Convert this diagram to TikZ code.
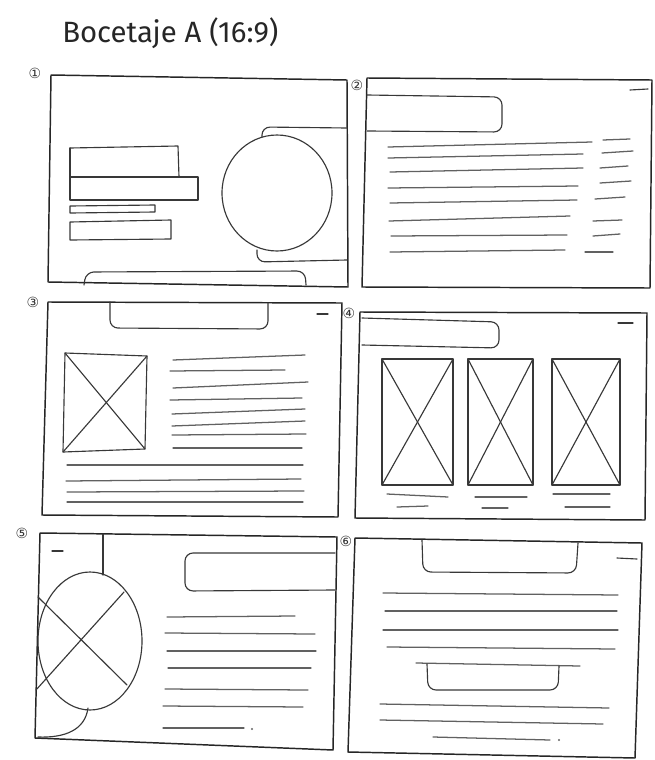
\documentclass[tikz,border=0pt]{standalone}
\usepackage{fontspec}
\setmainfont{Fira Sans}
\newfontfamily\symfont{DejaVu Sans}
\begin{document}
\begin{tikzpicture}[x=0.75pt,y=-0.75pt,
  frame/.style={draw=black!85,line width=1.1pt,line join=round},
  ink/.style={draw=black!78,line width=0.85pt,line cap=round,line join=round},
  txt/.style={draw=black!62,line width=0.95pt,line cap=round},
  tab/.style={ink,rounded corners=6pt},
  num/.style={font=\symfont\fontsize{10.5}{10.5}\selectfont,text=black!80,inner sep=0pt}]
\useasboundingbox (0,0) rectangle (654,760);
\fill[white] (0,0) rectangle (654,760);

% title
\node[font=\fontsize{22}{24}\selectfont,text=black!85,anchor=west,inner sep=0pt] (title) at (62,33) {Bocetaje A (16:9)};

% ---------- panel 1 ----------
\node[num] (n1) at (35,73) {①};
\draw[frame] (51,75) -- (347,80) -- (348,287) -- (48,282) -- cycle;
\draw[ink] (70,148) -- (178,146) -- (179,177);
\draw[ink] (70,148) -- (70,177) -- (198,177) -- (198,200) -- (70,200) -- cycle;
\draw[ink] (70,206) -- (155,205) -- (155,212) -- (70,213) -- cycle;
\draw[ink] (70,222) -- (171,220) -- (171,239) -- (70,240) -- cycle;
\draw[tab] (262,138) -- (262,127) -- (347,128);
\draw[tab] (257,250) -- (257,262) -- (347,260);
\draw[ink,fill=white] (277,193) ellipse [x radius=55, y radius=58];
\draw[tab] (84,285) -- (86,272) -- (305,271) -- (306,285);

% ---------- panel 2 ----------
\node[num] (n2) at (357,85) {②};
\draw[frame] (367,78) -- (652,80) -- (650,288) -- (362,287) -- cycle;
\draw[tab] (367,95) -- (502,97) -- (502,132) -- (367,131);
\draw[ink] (630,90) -- (648,89);
\draw[txt] (388,147) -- (592,142);
\draw[txt] (388,158) -- (583,154);
\draw[txt] (390,172) -- (583,168);
\draw[txt] (388,188) -- (578,186);
\draw[txt] (390,203) -- (577,200);
\draw[txt] (389,221) -- (570,216);
\draw[txt] (391,236) -- (567,235);
\draw[txt] (390,252) -- (565,250);
\draw[txt] (603,140) -- (630,139);
\draw[txt] (602,153) -- (633,151);
\draw[txt] (600,168) -- (628,166);
\draw[txt] (600,183) -- (631,181);
\draw[txt] (595,199) -- (625,197);
\draw[txt] (593,221) -- (622,220);
\draw[txt] (593,236) -- (620,234);
\draw[txt] (585,252) -- (613,252);

% ---------- panel 3 ----------
\node[num] (n3) at (33,302) {③};
\draw[frame] (48,302) -- (342,303) -- (338,517) -- (42,515) -- cycle;
\draw[tab] (110,302) -- (110,328) -- (268,329) -- (268,303);
\draw[ink] (317,314) -- (328,314);
\draw[ink] (65,353) -- (147,356) -- (145,449) -- (63,452) -- cycle;
\draw[ink] (65,353) -- (145,449);
\draw[ink] (147,356) -- (63,452);
\draw[txt] (173,360) -- (305,355);
\draw[txt] (170,371) -- (285,370);
\draw[txt] (173,388) -- (308,382);
\draw[txt] (170,400) -- (302,398);
\draw[txt] (172,414) -- (305,409);
\draw[txt] (172,426) -- (305,421);
\draw[txt] (172,435) -- (306,434);
\draw[txt] (173,448) -- (302,448);
\draw[txt] (67,465) -- (303,465);
\draw[txt] (66,481) -- (301,479);
\draw[txt] (67,492) -- (304,491);
\draw[txt] (67,502) -- (303,502);

% ---------- panel 4 ----------
\node[num] (n4) at (349,313) {④};
\draw[frame] (360,312) -- (647,313) -- (645,520) -- (355,518) -- cycle;
\draw[tab] (362,318) -- (499,322) -- (499,348) -- (362,345);
\draw[ink] (618,323) -- (633,323);
\foreach \a/\b in {382/453,468/533,552/620}{
  \draw[ink] (\a,359) rectangle (\b,485);
  \draw[ink] (\a,359) -- (\b,485);
  \draw[ink] (\b,359) -- (\a,485);
}
\draw[txt] (387,494) -- (448,497);
\draw[txt] (397,507) -- (428,506);
\draw[txt] (475,497) -- (527,497);
\draw[txt] (482,508) -- (508,508);
\draw[txt] (553,494) -- (610,494);
\draw[txt] (565,507) -- (610,507);

% ---------- panel 5 ----------
\node[num] (n5) at (22,533) {⑤};
\draw[frame] (40,533) -- (337,537) -- (333,750) -- (35,738) -- cycle;
\draw[ink] (103,534) -- (103,575);
\draw[ink] (52,551) -- (63,551);
\begin{scope}
  \clip (40,533) -- (337,537) -- (333,750) -- (35,738) -- cycle;
  \draw[ink] (90,641) ellipse [x radius=52, y radius=69];
\end{scope}
\draw[ink] (38,597) -- (127,685);
\draw[ink] (36,690) -- (124,592);
\draw[ink] (88,708) .. controls (85,730) and (65,738) .. (38,737);
\draw[tab] (335,553) -- (185,553) -- (185,591) -- (335,590);
\draw[txt] (167,617) -- (295,616);
\draw[txt] (165,633) -- (315,634);
\draw[txt] (167,651) -- (316,651);
\draw[txt] (168,668) -- (311,668);
\draw[txt] (165,689) -- (308,690);
\draw[txt] (163,706) -- (303,707);
\draw[txt] (163,728) -- (244,728);
\fill[black!60] (252,729) circle (1.2);

% ---------- panel 6 ----------
\node[num] (n6) at (346,541) {⑥};
\draw[frame] (355,538) -- (642,543) -- (635,758) -- (348,752) -- cycle;
\draw[tab] (422,540) -- (423,572) -- (576,573) -- (578,543);
\draw[ink] (617,558) -- (637,559);
\draw[txt] (383,593) -- (618,595);
\draw[txt] (385,611) -- (617,611);
\draw[txt] (383,630) -- (618,630);
\draw[txt] (387,647) -- (615,649);
\draw[txt] (416,663) -- (580,666);
\draw[tab] (427,664) -- (428,690) -- (558,690) -- (559,666);
\draw[txt] (380,704) -- (609,708);
\draw[txt] (380,720) -- (603,724);
\draw[txt] (433,737) -- (550,740);
\fill[black!60] (559,740) circle (1.2);
\end{tikzpicture}
\end{document}
